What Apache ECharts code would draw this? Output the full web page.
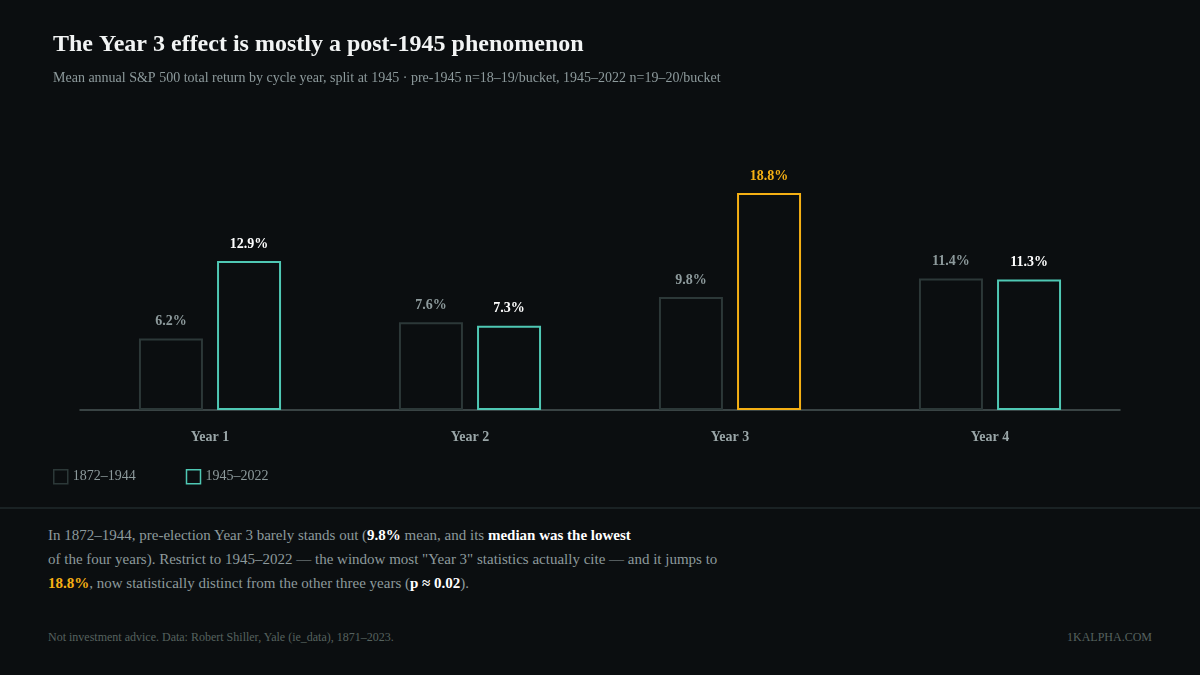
<!DOCTYPE html>
<html>
<head>
<meta charset="utf-8">
<script src="https://cdn.jsdelivr.net/npm/echarts@6/dist/echarts.min.js"></script>
<style>
  body { margin: 0; background: #0b0e10; font-family: "Liberation Serif", "DejaVu Serif", serif; }
  #wrap { position: relative; width: 1200px; height: 675px; overflow: hidden; }
  #chart { position: absolute; left: 0; top: 0; width: 1200px; height: 500px; }
  #sep { position: absolute; left: 0; top: 507px; width: 1200px; height: 2px; background: #1a2224; }
  #note { position: absolute; left: 48px; top: 523px; width: 720px; color: #8d9a9c; font-size: 15px; line-height: 24px; }
  #note b { color: #ffffff; }
  #note .hi { color: #f5b014; }
  #foot { position: absolute; left: 48px; top: 630px; color: #56625f; font-size: 12px; }
  #brand { position: absolute; right: 48px; top: 630px; color: #56625f; font-size: 12px; }
</style>
</head>
<body>
<div id="wrap">
  <div id="chart"></div>
  <div id="sep"></div>
  <div id="note">In 1872–1944, pre-election Year 3 barely stands out (<b>9.8%</b> mean, and its <b>median was the lowest</b><br>
  of the four years). Restrict to 1945–2022 — the window most "Year 3" statistics actually cite — and it jumps to<br>
  <b class="hi">18.8%</b>, now statistically distinct from the other three years (<b>p ≈ 0.02</b>).</div>
  <div id="foot">Not investment advice. Data: Robert Shiller, Yale (ie_data), 1871–2023.</div>
  <div id="brand">1KALPHA.COM</div>
</div>
<script>
// data
var categories = ["Year 1", "Year 2", "Year 3", "Year 4"];
var pre1945 = [6.2, 7.6, 9.8, 11.4];
var post1945 = [12.9, 7.3, 18.8, 11.3];
var highlightIndex = 2;

var font = '"Liberation Serif", "DejaVu Serif", serif';
var teal = "#4fc8b4";
var amber = "#f5b014";

var chart = echarts.init(document.getElementById("chart"));

var postData = post1945.map(function (v, i) {
    if (i === highlightIndex) {
        return {
            value: v,
            itemStyle: { borderColor: amber },
            label: { color: amber }
        };
    }
    return v;
});

chart.setOption({
    backgroundColor: "#0b0e10",
    animation: false,
    textStyle: { fontFamily: font },
    title: {
        text: "The Year 3 effect is mostly a post-1945 phenomenon",
        subtext: "Mean annual S&P 500 total return by cycle year, split at 1945 · pre-1945 n=18–19/bucket, 1945–2022 n=19–20/bucket",
        left: 48,
        top: 28,
        itemGap: 14,
        textStyle: { color: "#f2f4f4", fontSize: 24, fontWeight: "bold", fontFamily: font },
        subtextStyle: { color: "#8d9a9c", fontSize: 14, fontFamily: font }
    },
    legend: {
        left: 48,
        top: 464,
        itemWidth: 14,
        itemHeight: 14,
        itemGap: 50,
        icon: "rect",
        textStyle: { color: "#8d9a9c", fontSize: 14, fontFamily: font },
        data: [
            { name: "1872–1944", itemStyle: { color: "#0b0e10", borderColor: "#2c3838", borderWidth: 1.5 } },
            { name: "1945–2022", itemStyle: { color: "#0b0e10", borderColor: teal, borderWidth: 1.5 } }
        ]
    },
    grid: { left: 80, right: 80, top: 100, height: 310 },
    xAxis: {
        type: "category",
        data: categories,
        axisLine: { lineStyle: { color: "#4a5656", width: 1.5 } },
        axisTick: { show: false },
        axisLabel: { color: "#9aa6a8", fontSize: 14, fontWeight: "bold", margin: 20, fontFamily: font }
    },
    yAxis: {
        type: "value",
        min: 0,
        max: 26.86,
        show: false,
        splitLine: { show: false }
    },
    series: [
        {
            name: "1872–1944",
            type: "bar",
            barWidth: 64,
            barGap: "22%",
            data: pre1945,
            itemStyle: { color: "#0b0e10", borderColor: "#2c3838", borderWidth: 2 },
            label: {
                show: true, position: "top", distance: 10,
                color: "#8d9a9c", fontSize: 14, fontWeight: "bold", fontFamily: font,
                formatter: function (p) { return p.value.toFixed(1) + "%"; }
            }
        },
        {
            name: "1945–2022",
            type: "bar",
            barWidth: 64,
            data: postData,
            itemStyle: { color: "#0b0e10", borderColor: teal, borderWidth: 2 },
            label: {
                show: true, position: "top", distance: 10,
                color: "#ffffff", fontSize: 14, fontWeight: "bold", fontFamily: font,
                formatter: function (p) { return p.value.toFixed(1) + "%"; }
            }
        }
    ]
});
</script>
</body>
</html>
